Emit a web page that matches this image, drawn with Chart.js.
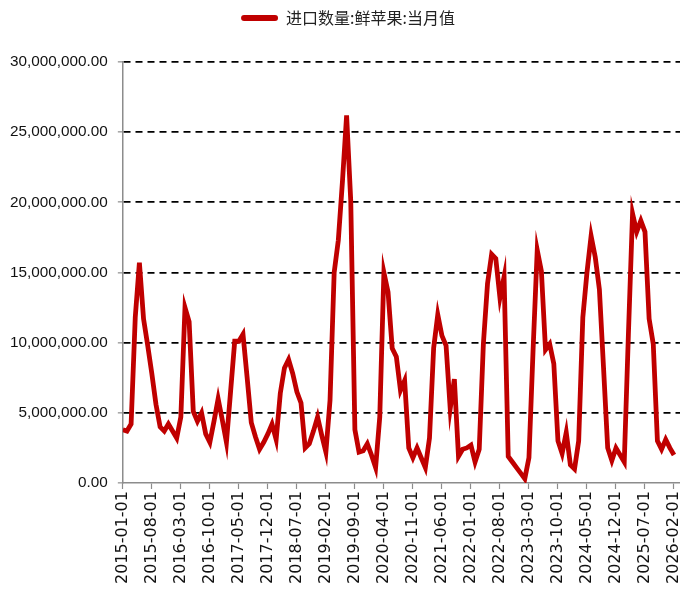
<!DOCTYPE html>
<html>
<head>
<meta charset="utf-8">
<script src="https://cdn.jsdelivr.net/npm/chart.js@4.4.1/dist/chart.umd.min.js"></script>
<style>
  html, body { margin: 0; padding: 0; background: #fff; }
  #wrap { width: 680px; height: 589px; position: relative; }
</style>
</head>
<body>
<div id="wrap"><canvas id="apple-imports"></canvas></div>
<script>
// monthly categories, 2015-01 .. 2026-02
const startYear = 2015;
const monthCount = 134;
const months = [];
for (let i = 0; i < monthCount; i++) {
  const y = startYear + Math.floor(i / 12);
  const m = String(i % 12 + 1).padStart(2, '0');
  months.push(`${y}-${m}-01`);
}

// every 7th month gets a label on the axis
const tickEvery = 7;

// 进口数量:鲜苹果:当月值
const importVolume = [
  3800000, 3700000, 4200000, 11800000, 15700000, 11700000, 9800000, 7800000, 5600000, 4000000,
  3700000, 4200000, 3700000, 3200000, 4700000, 12500000, 11500000, 5100000, 4400000, 5000000,
  3500000, 2900000, 4400000, 6000000, 4500000, 2900000, 6500000, 10100000, 10100000, 10600000,
  7500000, 4300000, 3300000, 2400000, 2900000, 3500000, 4200000, 3100000, 6400000, 8200000,
  8800000, 7800000, 6500000, 5700000, 2500000, 2800000, 3700000, 4700000, 3400000, 2200000,
  5900000, 15000000, 17300000, 21500000, 26200000, 20100000, 3800000, 2200000, 2300000, 2800000,
  2000000, 1100000, 4700000, 15000000, 13600000, 9600000, 9000000, 6600000, 7300000, 2500000,
  1800000, 2500000, 1800000, 1100000, 3200000, 9600000, 12000000, 10500000, 9800000, 5300000,
  7400000, 1900000, 2400000, 2500000, 2700000, 1500000, 2400000, 9900000, 14200000, 16300000,
  16000000, 13200000, 14700000, 1900000, 1500000, 1100000, 700000, 300000, 1800000, 9500000,
  16600000, 15100000, 9500000, 9900000, 8500000, 3000000, 2100000, 3600000, 1300000, 1000000,
  3000000, 11800000, 15000000, 17600000, 16100000, 13800000, 8200000, 2500000, 1600000, 2500000,
  2000000, 1500000, 10600000, 19200000, 17900000, 18700000, 17900000, 11700000, 9900000, 3000000,
  2400000, 3100000, 2500000, 2000000,
];

const seriesName = '进口数量:鲜苹果:当月值';
const lineColor = '#C00000';
const axisGray = '#8c8c8c';

// push the plot down below the legend, nudge the legend a bit right
const legendGap = {
  id: 'legendGap',
  beforeInit(chart) {
    const fit = chart.legend.fit;
    chart.legend.fit = function () {
      fit.call(this);
      this.height += 26;
    };
  },
  afterLayout(chart) {
    chart.legend.left += 8;
    chart.legend.right += 8;
  },
};

const ctx = document.getElementById('apple-imports');

new Chart(ctx, {
  type: 'line',
  data: {
    datasets: [
      {
        label: seriesName,
        data: importVolume.map((v, i) => ({ x: i, y: v })),
        borderColor: lineColor,
        backgroundColor: lineColor,
        borderWidth: 4.8,
        tension: 0,
        pointRadius: 0,
        fill: false,
      },
    ],
  },
  options: {
    animation: false,
    responsive: true,
    maintainAspectRatio: false,
    layout: {
      padding: { top: 2, left: 0, right: 0, bottom: 3 },
    },
    scales: {
      x: {
        type: 'linear',
        min: 0,
        max: 134.45,
        afterBuildTicks: (scale) => {
          const ticks = [];
          for (let i = 0; i < months.length; i += tickEvery) ticks.push({ value: i });
          scale.ticks = ticks;
        },
        afterFit: (scale) => {
          scale.paddingRight = 0;
        },
        border: { display: true, color: axisGray, width: 1.5 },
        grid: {
          drawOnChartArea: false,
          drawTicks: true,
          tickLength: 6,
          tickColor: axisGray,
          tickWidth: 1.2,
        },
        ticks: {
          autoSkip: false,
          maxRotation: 90,
          minRotation: 90,
          padding: 2,
          color: '#111',
          font: { family: 'DejaVu Sans', size: 16 },
          callback: (value) => months[value],
        },
      },
      y: {
        min: 0,
        max: 30000000,
        border: { display: true, color: axisGray, width: 1.5, dash: [7, 5] },
        grid: {
          color: (c) => (c.tick && c.tick.value === 0 ? 'rgba(0,0,0,0)' : '#000'),
          lineWidth: 1.7,
          tickLength: 5,
          tickColor: axisGray,
          tickWidth: 1.2,
          tickBorderDash: [],
        },
        ticks: {
          stepSize: 5000000,
          padding: 10,
          color: '#111',
          font: { family: 'Liberation Sans', size: 15.3 },
          callback: (value) => value.toLocaleString('en-US', { minimumFractionDigits: 2, maximumFractionDigits: 2 }),
        },
      },
    },
    plugins: {
      legend: {
        display: true,
        position: 'top',
        labels: {
          boxWidth: 37,
          boxHeight: 6,
          useBorderRadius: true,
          borderRadius: 3,
          padding: 8,
          color: '#222',
          font: { family: 'Noto Sans CJK SC', size: 16 },
          generateLabels: (chart) => Chart.defaults.plugins.legend.labels.generateLabels(chart)
            .map(item => ({ ...item, lineWidth: 0, borderRadius: 3 })),
        },
      },
      tooltip: { enabled: false },
    },
  },
  plugins: [legendGap],
});
</script>
</body>
</html>
